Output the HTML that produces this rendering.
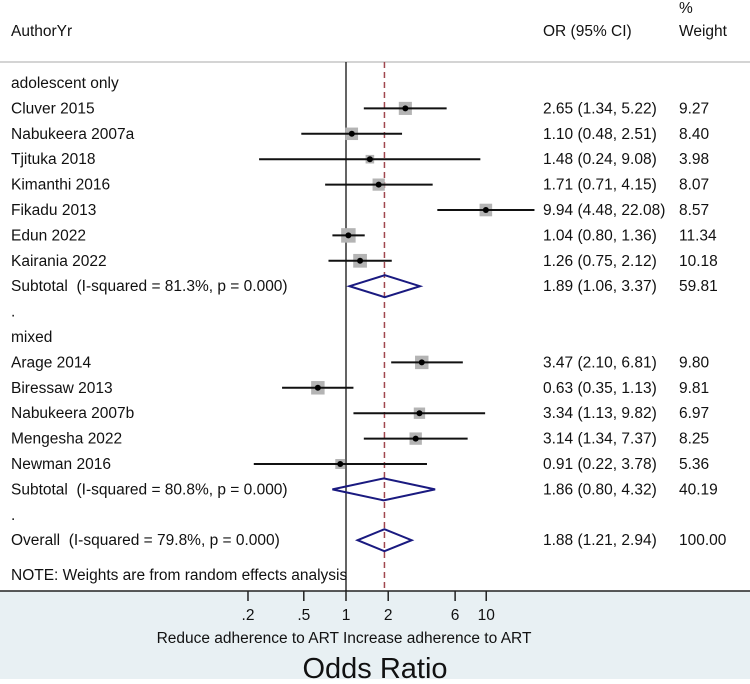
<!DOCTYPE html>
<html><head><meta charset="utf-8"><style>
body{margin:0;width:750px;height:679px;overflow:hidden;background:#fff;font-family:"Liberation Sans",Arial,sans-serif}
svg text{font-family:"Liberation Sans",Arial,sans-serif;fill:#111;white-space:pre}
</style></head><body>
<svg id="chart" width="750" height="679" xmlns="http://www.w3.org/2000/svg" xml:space="preserve">
<rect x="0" y="0" width="750" height="591" fill="#fff"/>
<rect x="0" y="591" width="750" height="88" fill="#e8f0f3"/>
<line x1="0" y1="62" x2="750" y2="62" stroke="#bbb" stroke-width="1.2"/>
<line x1="0" y1="591" x2="750" y2="591" stroke="#222" stroke-width="1.5"/>
<text x="11" y="36" font-size="15.5">AuthorYr</text>
<text x="543" y="36" font-size="15.5">OR (95% CI)</text>
<text x="679" y="13" font-size="15.5">%</text>
<text x="679" y="36" font-size="15.5">Weight</text>
<text x="11" y="580" font-size="15.5">NOTE: Weights are from random effects analysis</text>
<text x="344" y="643" font-size="15.5" text-anchor="middle">Reduce adherence to ART Increase adherence to ART</text>
<text x="375" y="678" font-size="29" text-anchor="middle">Odds Ratio</text>
<g id="g"></g>
</svg>
<script>
const labels=["adolescent only","Cluver 2015","Nabukeera 2007a","Tjituka 2018","Kimanthi 2016","Fikadu 2013","Edun 2022","Kairania 2022","Subtotal  (I-squared = 81.3%, p = 0.000)",".","mixed","Arage 2014","Biressaw 2013","Nabukeera 2007b","Mengesha 2022","Newman 2016","Subtotal  (I-squared = 80.8%, p = 0.000)",".","Overall  (I-squared = 79.8%, p = 0.000)"];
const kinds=["h","s","s","s","s","s","s","s","d","b","h","s","s","s","s","s","d","b","d"];
const est=[null,2.65,1.10,1.48,1.71,9.94,1.04,1.26,1.89,null,null,3.47,0.63,3.34,3.14,0.91,1.86,null,1.88];
const lo=[null,1.34,0.48,0.24,0.71,4.48,0.80,0.75,1.06,null,null,2.10,0.35,1.13,1.34,0.22,0.80,null,1.21];
const hi=[null,5.22,2.51,9.08,4.15,22.08,1.36,2.12,3.37,null,null,6.81,1.13,9.82,7.37,3.78,4.32,null,2.94];
const weights=[null,9.27,8.40,3.98,8.07,8.57,11.34,10.18,59.81,null,null,9.80,9.81,6.97,8.25,5.36,40.19,null,100.00];
const ticks=[0.2,0.5,1,2,6,10];
const tickLabels=[".2",".5","1","2","6","10"];
const overall=1.88;
const NS="http://www.w3.org/2000/svg",g=document.getElementById('g');
const X=v=>346+60.9*Math.log(v);
const Y=i=>83+25.4*i;
function mk(t,a){const e=document.createElementNS(NS,t);for(const k in a)e.setAttribute(k,a[k]);g.appendChild(e);return e;}
let e=mk('line',{x1:X(1),x2:X(1),y1:62,y2:591,stroke:'#111','stroke-width':1.3});


e=mk('line',{x1:X(overall),x2:X(overall),y1:62,y2:591,stroke:'#a0474f','stroke-width':1.5,'stroke-dasharray':'6,4'});


const f=v=>v.toFixed(2);
labels.forEach((l,i)=>{
 const y=Y(i);
 let t=mk('text',{x:11,y:y+5,'font-size':15.5});t.textContent=l;
 
 
 if(est[i]==null)return;
 t=mk('text',{x:543,y:y+5,'font-size':15.5});t.textContent=f(est[i])+" ("+f(lo[i])+", "+f(hi[i])+")";
 
 
 t=mk('text',{x:679,y:y+5,'font-size':15.5});t.textContent=f(weights[i]);
 
 
 if(kinds[i]=='s'){
  const s=4.3*Math.sqrt(weights[i]);
  let r=mk('rect',{x:X(est[i])-s/2,y:y-s/2,width:s,height:s,fill:'#b4b4b4'});
  
  
  let ln=mk('line',{x1:X(lo[i]),x2:X(hi[i]),y1:y,y2:y,stroke:'#111','stroke-width':2});
  
  
  let c=mk('circle',{cx:X(est[i]),cy:y,r:3,fill:'#000'});
  
  
 } else {
  const d=mk('polygon',{points:`${X(lo[i])},${y} ${X(est[i])},${y-11} ${X(hi[i])},${y} ${X(est[i])},${y+11}`,fill:'none',stroke:'#1a1a80','stroke-width':2});
  
  
 }
});
ticks.forEach((v,i)=>{
 let l=mk('line',{x1:X(v),x2:X(v),y1:591,y2:601,stroke:'#222','stroke-width':1.5});
 
 
 let t=mk('text',{x:X(v),y:620,'font-size':15.5,'text-anchor':'middle'});t.textContent=tickLabels[i];
 
 
});
</script>
</body></html>
